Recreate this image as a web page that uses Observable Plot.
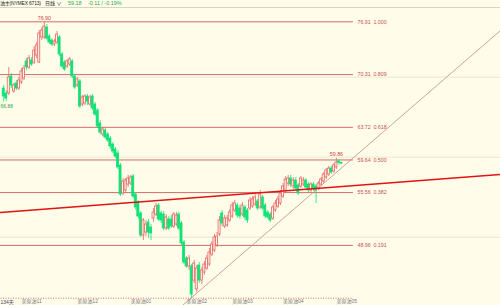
<!DOCTYPE html>
<html><head><meta charset="utf-8">
<script src="https://cdn.jsdelivr.net/npm/d3@7"></script>
<script src="https://cdn.jsdelivr.net/npm/@observablehq/plot@0.6"></script>
<style>
html,body{margin:0;padding:0;background:#fffdea;overflow:hidden;width:500px;height:305px}
#hdr{height:7px;border-bottom:1px solid #d6d4c6;font:5px "Liberation Sans","Noto Sans CJK SC",sans-serif;position:relative;white-space:nowrap;color:#222}
#hdr span{position:absolute;top:1px;line-height:5px}
#chart svg{display:block}
</style></head><body>
<div id="hdr">
<span style="left:0;letter-spacing:-0.2px">油主(NYMEX 6713)</span>
<span style="left:45px">日线 ∨</span>
<span style="left:68px;color:#2aa84a;font-size:5.4px">59.18</span>
<span style="left:88px;color:#2aa84a;font-size:5.4px">-0.11 / -0.19%</span>
</div>
<div id="chart"></div>
<script>
const opens = [
68.57,67.95,67.95,70.07,68.20,69.20,68.57,69.32,69.82,71.95,
71.20,72.07,71.82,72.70,71.82,74.95,74.95,76.20,75.07,74.57,
74.07,74.32,74.95,72.82,71.82,71.32,71.57,71.95,70.07,68.95,
69.45,66.57,66.70,67.57,66.57,67.57,66.57,65.82,64.20,62.82,
63.32,62.82,62.32,61.57,60.95,60.45,58.95,55.45,55.82,56.57,
56.70,57.57,55.32,54.32,52.95,50.20,50.57,51.82,51.20,52.32,
52.82,53.95,52.95,52.82,51.07,52.20,52.20,51.32,51.57,52.82,
51.70,49.32,47.32,46.32,46.32,44.57,43.45,46.45,44.57,45.57,
46.07,46.57,47.82,48.32,48.95,50.32,52.95,51.32,51.45,52.07,
52.57,53.32,53.95,53.57,52.82,53.70,53.32,53.57,53.82,54.07,
54.45,53.70,54.95,53.95,53.07,52.82,52.32,53.32,53.82,54.20,
55.07,55.82,56.70,57.32,56.32,57.07,56.45,56.32,56.57,57.07,
56.57,55.82,56.57,56.32,56.07,56.57,56.95,57.45,57.82,58.57,
58.20,58.70,59.45,59.29];
const highs = [
68.95,68.32,71.20,70.45,69.20,69.57,69.95,71.07,71.45,72.32,
72.70,72.45,73.82,74.32,75.82,76.20,76.90,76.57,75.32,74.82,
74.70,75.70,75.20,73.07,72.07,72.20,72.45,72.20,70.32,69.95,
69.70,67.70,67.82,67.82,67.70,67.82,66.82,66.07,64.57,63.70,
63.57,63.07,62.57,61.82,61.20,60.82,59.20,57.32,57.32,57.70,
57.70,57.82,55.57,54.57,53.20,52.32,52.07,52.20,51.57,53.57,
54.20,54.20,53.20,53.20,52.82,52.57,52.70,53.07,53.07,53.07,
51.95,49.57,47.57,47.70,46.57,47.07,46.45,46.82,46.20,46.95,
47.70,48.57,49.45,50.32,50.57,52.57,53.32,52.70,52.70,53.45,
54.32,54.57,54.20,53.95,54.32,53.95,53.57,54.95,55.07,55.32,
54.70,55.82,55.20,54.20,53.32,53.07,53.95,54.57,55.07,55.82,
56.70,57.57,57.70,57.70,57.45,57.45,56.70,57.57,57.45,57.32,
56.82,56.82,56.82,56.57,56.95,57.45,58.07,58.57,58.82,58.82,
59.20,59.86,59.70,59.35];
const lows = [
66.88,66.95,67.70,68.57,67.95,68.32,68.32,69.07,69.57,70.82,
70.95,71.32,71.57,72.32,71.70,74.57,74.70,74.57,74.07,73.82,
73.82,74.07,72.57,71.07,70.70,71.07,71.32,69.82,68.45,68.70,
66.07,66.32,66.45,66.45,66.32,65.82,65.07,63.57,62.82,62.57,
62.20,61.82,60.95,60.45,59.82,58.45,55.07,55.20,55.57,56.20,
56.45,54.82,53.32,52.20,49.95,49.57,50.07,49.82,49.57,51.82,
52.57,51.95,51.70,50.82,50.82,50.82,51.07,51.07,51.32,50.82,
48.95,46.57,46.07,45.82,42.36,44.20,43.07,44.20,44.07,45.20,
45.82,46.32,47.57,48.07,48.70,50.07,51.32,51.07,51.20,51.82,
52.32,53.07,52.32,52.20,52.57,52.07,51.70,53.32,53.57,53.82,
53.32,53.45,53.32,52.32,52.20,51.82,52.07,53.07,53.57,53.95,
54.82,55.57,56.32,56.20,55.95,55.82,55.20,56.07,56.32,55.95,
55.57,55.57,55.70,54.20,55.82,56.32,56.70,57.20,57.57,57.82,
57.95,58.45,58.95,59.07];
const closes = [
67.57,67.32,69.95,68.95,68.95,68.57,69.57,70.70,71.07,71.20,
72.32,71.57,73.32,73.95,75.45,75.82,76.32,74.82,74.32,74.07,
74.45,75.32,72.82,71.32,70.95,71.95,72.20,70.07,68.70,69.70,
66.32,67.45,67.57,66.95,67.45,66.07,65.32,63.82,63.07,63.45,
62.45,62.07,61.32,60.70,60.07,58.70,55.32,56.95,57.07,57.32,
57.45,55.07,53.70,52.57,50.20,52.07,51.57,50.57,50.45,53.07,
53.82,52.20,52.07,51.07,52.45,51.07,51.32,52.82,52.70,51.07,
49.20,46.82,46.32,47.32,42.82,46.70,46.07,44.57,45.82,46.57,
47.32,48.07,49.07,49.95,50.07,52.07,51.70,52.32,52.32,53.07,
53.95,54.20,52.70,52.57,53.95,52.45,52.07,54.57,54.70,54.95,
53.57,55.32,53.57,52.57,52.45,52.07,53.70,54.20,54.70,55.45,
56.32,57.20,57.32,56.57,57.07,56.07,55.45,57.32,57.07,56.20,
55.82,56.57,55.95,55.82,56.70,57.20,57.82,58.32,58.57,58.07,
58.95,59.32,59.29,59.18];

const fibPrices = [42.36, 48.96, 55.56, 59.64, 63.72, 70.31, 76.91];
const fibRatios = ["0.000", "0.191", "0.382", "0.500", "0.618", "0.809", "1.000"];
const monthTicks = [7, 29, 50, 72, 90, 110, 131];
const monthLabels = ["美原油11", "美原油12", "美原油01", "美原油02", "美原油03", "美原油04", "美原油05"];
const gridPrices = [50, 60, 70];
// trend lines anchored in (bar index, price)
const trendRed = [{i: -1.3, p: 53.07}, {i: 195.6, p: 57.82}];
const trendThin = [{i: 70.4, p: 41.45}, {i: 195.6, p: 75.82}];
const markedHighs = [16, 131];
const markedLows = [0];
const daysLabel = "134天";

const UP = "#e46464", DOWN = "#12e276", BG = "#fffdea", FIB = "#d46a6a";
const bars = opens.map((o, i) => ({i, o, h: highs[i], l: lows[i], c: closes[i], up: closes[i] >= o}));
const lastI = bars.length - 1;
const fib = fibPrices.map((p, k) => ({p, r: fibRatios[k]}));

const chart = Plot.plot({
  width: 500, height: 297,
  marginTop: 0, marginRight: 0, marginBottom: 7, marginLeft: 0,
  style: {background: "transparent", fontFamily: "'Liberation Sans','Noto Sans CJK SC',sans-serif", fontSize: "5px", overflow: "visible"},
  x: {domain: [0, lastI], range: [3.2, 341], label: null},
  y: {domain: [fibPrices[0], fibPrices[fibPrices.length - 1]], range: [289.7, 13.3], axis: null, label: null},
  marks: [
    Plot.gridY(gridPrices, {stroke: "#ebe7cf", strokeOpacity: 1}),
    Plot.ruleY(fib.filter(d => d.r !== "0.000"), {y: "p", x1: -3, x2: lastI + 4.7, stroke: FIB, strokeWidth: 1}),
    Plot.ruleY(fib.filter(d => d.r === "0.000"), {y: "p", x1: -3, x2: lastI + 4.7, stroke: FIB, strokeWidth: 1, strokeDasharray: "1,1.5"}),
    Plot.text(fib.filter(d => d.r !== "0.000"), {x: lastI + 6.3, y: "p", text: d => d.p.toFixed(2) + "\u2002" + d.r, textAnchor: "start", fill: "#c85050", fontSize: 5.3}),
    Plot.ruleX(bars, {x: "i", y1: "l", y2: "h", stroke: d => d.up ? UP : DOWN, strokeWidth: 0.8}),
    Plot.rect(bars, {x1: d => d.i - 0.4, x2: d => d.i + 0.4, y1: "o", y2: "c", fill: d => d.up ? BG : DOWN, stroke: d => d.up ? UP : DOWN, strokeWidth: 0.8}),
    Plot.line(trendThin, {x: "i", y: "p", stroke: "#b8907f", strokeWidth: 0.8}),
    Plot.line(trendRed, {x: "i", y: "p", stroke: "#e01414", strokeWidth: 1.6}),
    Plot.text(markedHighs.map(k => bars[k]), {x: "i", y: "h", text: d => d.h.toFixed(2), dy: -4, fill: "#c84444", fontSize: 5.3}),
    Plot.text(markedLows.map(k => bars[k]), {x: "i", y: "l", text: d => d.l.toFixed(2), dy: 4, dx: -3.2, textAnchor: "start", fill: "#2aa84a", fontSize: 5}),
    Plot.axisX(monthTicks, {anchor: "bottom", label: null, tickSize: 0, tickPadding: 1, textAnchor: "start", fontSize: 5, fill: "#7a7a7a",
      tickFormat: d => monthLabels[monthTicks.indexOf(d)]}),
    Plot.text([daysLabel], {frameAnchor: "bottom-left", text: d => d, textAnchor: "start", lineAnchor: "top", dy: 1.5, fill: "#445", fontSize: 5})
  ]
});
document.getElementById("chart").appendChild(chart);
</script>
</body></html>
